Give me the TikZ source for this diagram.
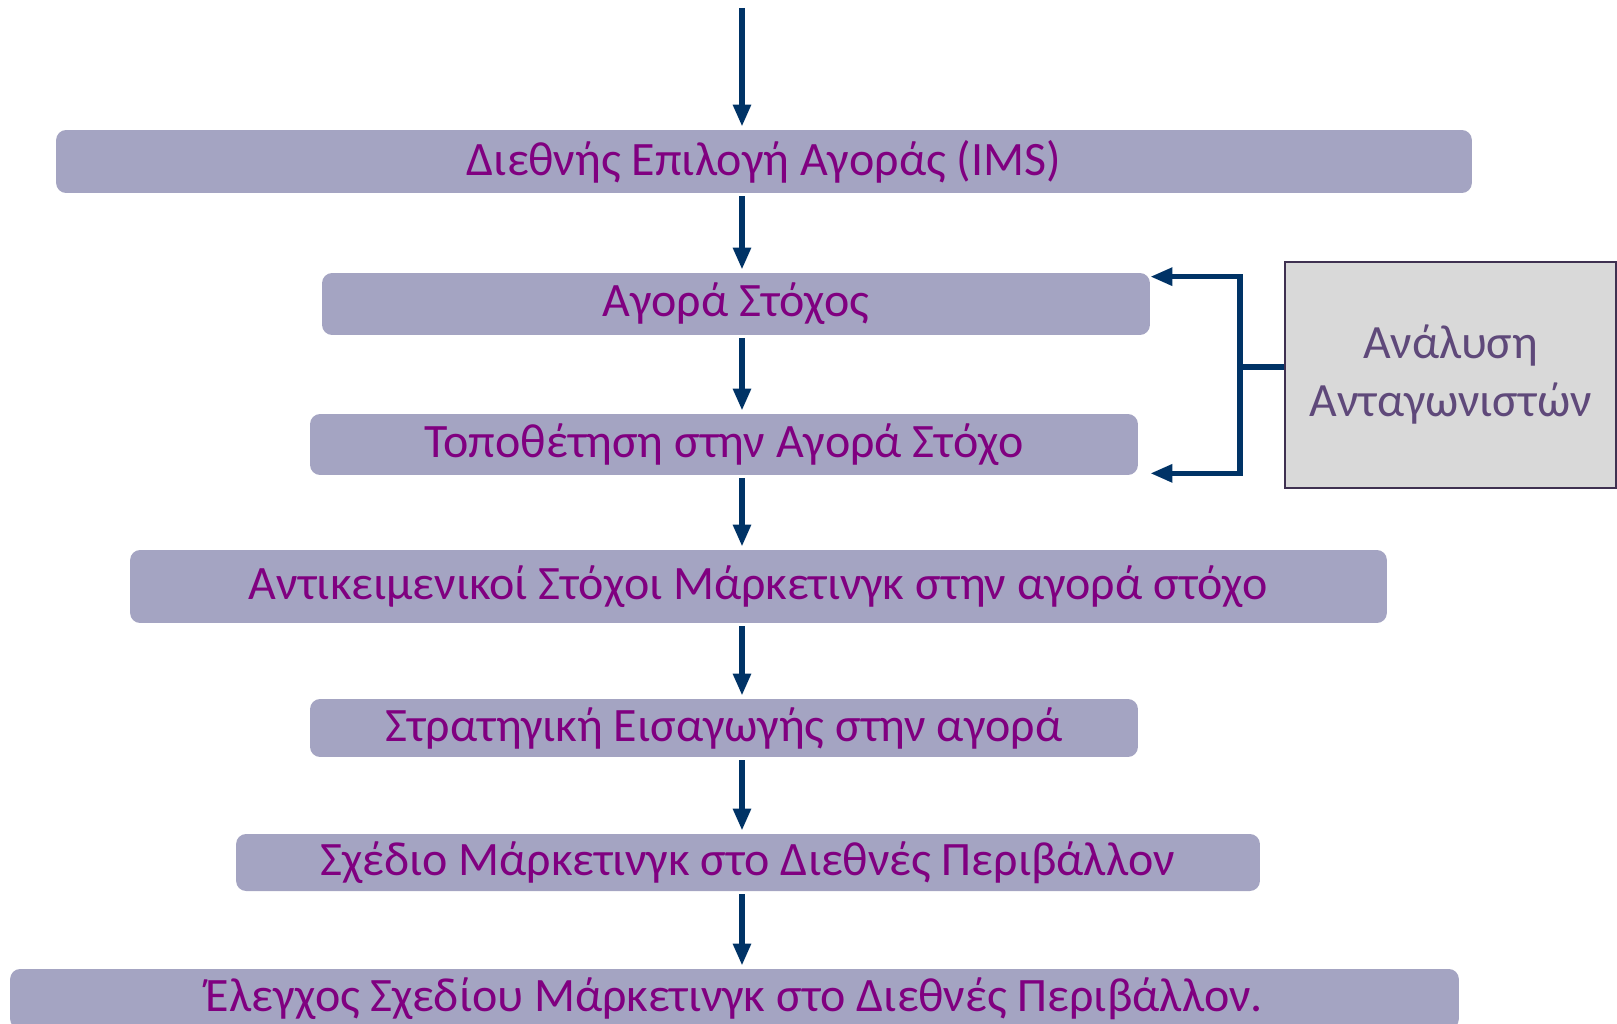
\documentclass[tikz,border=0pt]{standalone}
\usepackage{fontspec}
\setmainfont{Carlito}
\usetikzlibrary{arrows.meta,positioning}
\definecolor{stagefill}{RGB}{164,164,194}
\definecolor{stagetext}{RGB}{128,0,128}
\definecolor{flowblue}{RGB}{0,51,102}
\definecolor{sidefill}{RGB}{217,217,217}
\definecolor{sideline}{RGB}{63,49,81}
\definecolor{sidetext}{RGB}{95,73,122}
\tikzset{
  stage/.style={fill=stagefill,draw=none,rounded corners=0.2cm,text=stagetext,
    font=\fontsize{27.3}{32}\selectfont,inner sep=0pt},
  flowline/.style={draw=flowblue,line width=3.1pt},
  flow/.style={flowline,-{Triangle[width=0.34cm,length=0.44cm]}},
  sidebox/.style={fill=sidefill,draw=sideline,line width=1.2pt,text=sidetext,
    align=center,font=\fontsize{27.2}{33}\selectfont,inner sep=0pt}
}
\begin{document}
\begin{tikzpicture}[x=0.02cm,y=-0.02cm]
	\useasboundingbox (0,0) rectangle (1617,1024);
	\clip (0,0) rectangle (1617,1024);
	%% the stages
	\node[stage,minimum width=28.32cm,minimum height=1.26cm] (b1) at (764,161.5) {Διεθνής Επιλογή Αγοράς (IMS)};
	\node[stage,minimum width=16.56cm,minimum height=1.24cm] (b2) at (736,304) {Αγορά Στόχος};
	\node[stage,minimum width=16.56cm,minimum height=1.22cm] (b3) at (724,444.5) {Τοποθέτηση στην Αγορά Στόχο};
	\node[stage,minimum width=25.14cm,minimum height=1.46cm] (b4) at (758.5,586.5) {Αντικειμενικοί Στόχοι Μάρκετινγκ στην αγορά στόχο};
	\node[stage,minimum width=16.56cm,minimum height=1.16cm] (b5) at (724,728) {Στρατηγική Εισαγωγής στην αγορά};
	\node[stage,minimum width=20.48cm,minimum height=1.14cm] (b6) at (748,862.5) {Σχέδιο Μάρκετινγκ στο Διεθνές Περιβάλλον};
	\node[stage,minimum width=28.98cm,minimum height=1.2cm] (b7) at (734.5,999) {Έλεγχος Σχεδίου Μάρκετινγκ στο Διεθνές Περιβάλλον.};
	%% the side box
	\node[sidebox,minimum width=6.62cm,minimum height=4.52cm] (side) at (1450.5,375) {Ανάλυση\\Ανταγωνιστών};
	%% the arrows down
	\coordinate (ax) at (742,0);
	\coordinate (top) at (742,8);
	\draw[flow,shorten >=0.06cm] (top) -- (b1.north -| ax);
	\foreach \a/\b in {b1/b2,b2/b3,b3/b4,b4/b5,b5/b6,b6/b7}
		\draw[flow,shorten <=0.06cm,shorten >=0.06cm] (\a.south -| ax) -- (\b.north -| ax);
	%% the bracket
	\coordinate (brk) at (1240,367);
	\draw[flowline] (side.west |- brk) -- (brk);
	\draw[flow] (brk) |- ([yshift=-0.08cm]b2.north east);
	\draw[flow] (brk) |- ([xshift=0.24cm,yshift=0.04cm]b3.south east);
\end{tikzpicture}
\end{document}
